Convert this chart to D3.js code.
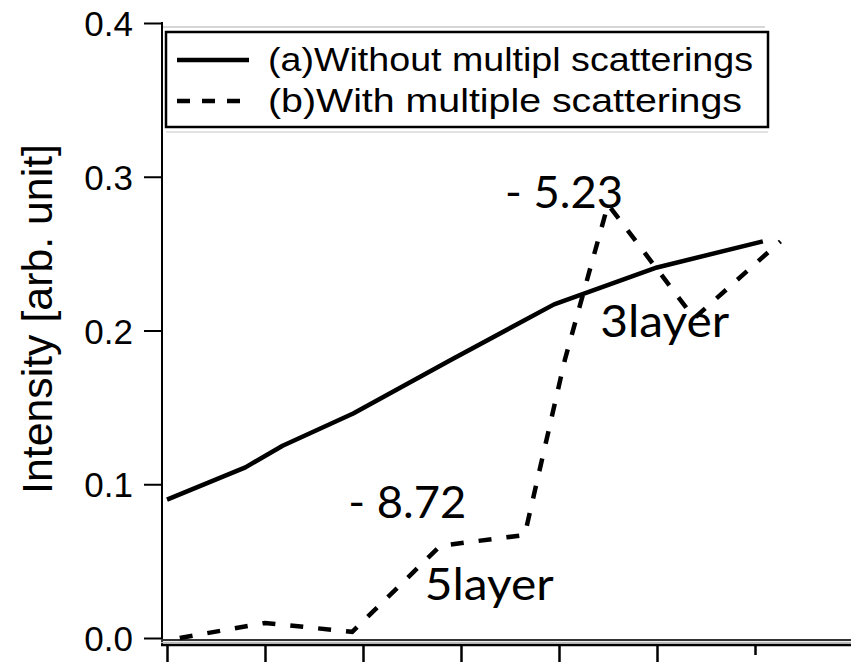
<!DOCTYPE html>
<html>
<head>
<meta charset="utf-8">
<script src="https://cdn.jsdelivr.net/npm/d3@7"></script>
<style>
    html, body { margin: 0; padding: 0; background: #fff; }
    svg { display: block; }
    .axis text { font-family: "Liberation Sans", Arial, sans-serif; fill: #000; }
    .note { font-family: Lato, "Open Sans", sans-serif; fill: #000; }
</style>
</head>
<body>
<svg id="svg" width="851" height="662"></svg>
<script>
// values (x in tick units, y in arb. unit)
var xTicks = [0, 1, 2, 3, 4, 5, 6];
var yTicks = [0.0, 0.1, 0.2, 0.3, 0.4];

var withoutX = [0, 0.8, 1.18, 1.9, 2.9, 3.95, 5.0, 6.08];
var withoutY = [0.090, 0.111, 0.125, 0.146, 0.181, 0.217, 0.241, 0.258];

var withX = [0.13, 1.0, 1.89, 2.79, 3.65, 4.06, 4.5, 5.38, 6.26];
var withY = [0.000, 0.0098, 0.004, 0.060, 0.067, 0.181, 0.282, 0.208, 0.258];

var legendLabels = ['(a)Without multipl scatterings', '(b)With multiple scatterings'];

var notes = ['- 5.23', '3layer', '- 8.72', '5layer'];
var notesX = [3.45, 4.42, 1.85, 2.63];
var notesY = [0.280, 0.196, 0.078, 0.025];

var svg = d3.select('#svg');

var x = d3.scaleLinear().domain([0, 7]).range([167, 853]);
var y = d3.scaleLinear().domain([0, 0.4]).range([638, 23]);

// faint frame lines behind legend
svg.append('line').attr('x1', 163).attr('x2', 765).attr('y1', 27).attr('y2', 27)
    .attr('stroke', '#c8c8c8').attr('stroke-width', 1.5);
svg.append('line').attr('x1', 166).attr('x2', 768).attr('y1', 132).attr('y2', 132)
    .attr('stroke', '#d8d8d8').attr('stroke-width', 1.5);

// y axis
var yAxis = svg.append('g').attr('class', 'axis').attr('transform', 'translate(162,0)')
    .call(d3.axisLeft(y).tickValues(yTicks).tickSize(18).tickSizeOuter(0).tickPadding(11)
        .tickFormat(d3.format('.1f')));
yAxis.select('.domain').remove();
yAxis.selectAll('.tick line').attr('stroke', '#000').attr('stroke-width', 2);
yAxis.selectAll('.tick text').attr('font-size', 35).attr('dy', '0.36em');
svg.append('line').attr('x1', 162).attr('x2', 162).attr('y1', 22).attr('y2', 646)
    .attr('stroke', '#000').attr('stroke-width', 2);

// x axis (double line, unlabeled ticks)
svg.append('line').attr('x1', 161).attr('x2', 851).attr('y1', 640).attr('y2', 640)
    .attr('stroke', '#333').attr('stroke-width', 2);
svg.append('line').attr('x1', 161).attr('x2', 851).attr('y1', 642.5).attr('y2', 642.5)
    .attr('stroke', '#bbb').attr('stroke-width', 1.5);
svg.append('line').attr('x1', 161).attr('x2', 851).attr('y1', 645).attr('y2', 645)
    .attr('stroke', '#000').attr('stroke-width', 2.5);
var xAxis = svg.append('g').attr('class', 'axis').attr('transform', 'translate(0,645)')
    .call(d3.axisBottom(x).tickValues(xTicks).tickSize(17).tickSizeOuter(0).tickFormat(''));
xAxis.select('.domain').remove();
xAxis.selectAll('.tick line').attr('stroke', '#000').attr('stroke-width', 2.5);
xAxis.selectAll('.tick line').filter(function (d) { return d === 6; }).attr('y2', 10);

// y label
svg.append('text').attr('class', 'axis')
    .attr('transform', 'translate(52,319) rotate(-90)')
    .attr('text-anchor', 'middle')
    .attr('font-family', '"Liberation Sans", Arial, sans-serif')
    .attr('font-size', 42)
    .attr('textLength', 350).attr('lengthAdjust', 'spacingAndGlyphs')
    .text('Intensity [arb. unit]');

// curves
var line = d3.line().x(function (d) { return x(d[0]); }).y(function (d) { return y(d[1]); });

svg.append('path')
    .datum(withoutX.map(function (v, i) { return [v, withoutY[i]]; }))
    .attr('d', line).attr('fill', 'none').attr('stroke', '#000')
    .attr('stroke-width', 4.5).attr('stroke-linejoin', 'round');

svg.append('path')
    .datum(withX.map(function (v, i) { return [v, withY[i]]; }))
    .attr('d', line).attr('fill', 'none').attr('stroke', '#000')
    .attr('stroke-width', 4.5).attr('stroke-dasharray', '13,15');

// annotations
notes.forEach(function (t, i) {
    svg.append('text').attr('class', 'note')
        .attr('x', x(notesX[i])).attr('y', y(notesY[i]))
        .attr('font-size', 45)
        .attr('textLength', t.charAt(0) === '-' ? 118 : 129).attr('lengthAdjust', 'spacingAndGlyphs')
        .text(t);
});

// legend
var legend = svg.append('g');
legend.append('rect').attr('x', 166).attr('y', 32).attr('width', 602).attr('height', 95)
    .attr('fill', '#fff').attr('stroke', '#000').attr('stroke-width', 2.5);
var dashes = ['none', '13,12'];
var widths = [485, 474];
legendLabels.forEach(function (t, i) {
    var ly = 60 + i * 41;
    legend.append('line').attr('x1', 177).attr('x2', 249).attr('y1', ly).attr('y2', ly)
        .attr('stroke', '#000').attr('stroke-width', 4.5).attr('stroke-dasharray', dashes[i]);
    legend.append('text')
        .attr('x', 268).attr('y', ly + 11)
        .attr('font-family', '"Liberation Sans", Arial, sans-serif')
        .attr('font-size', 34)
        .attr('textLength', widths[i]).attr('lengthAdjust', 'spacingAndGlyphs')
        .text(t);
});
</script>
</body>
</html>
